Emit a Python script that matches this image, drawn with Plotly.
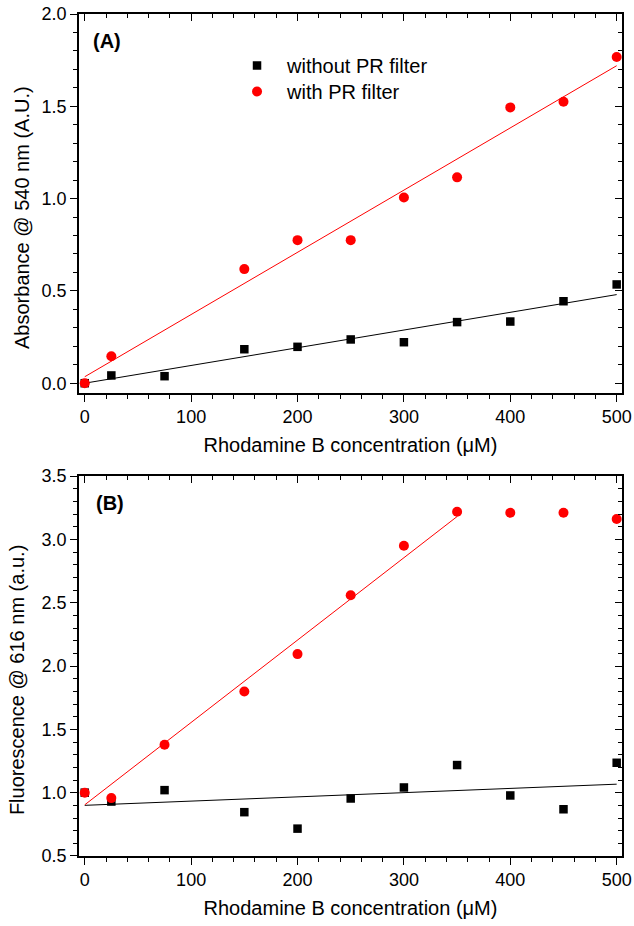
import plotly.graph_objects as go

# ---------------- data ----------------
conc = [0, 25, 75, 150, 200, 250, 300, 350, 400, 450, 500]

abs_without = [0.0, 0.042, 0.038, 0.184, 0.197, 0.237, 0.222, 0.331, 0.334, 0.444, 0.535]
conc_abs_with = [0, 25, 150, 200, 250, 300, 350, 400, 450, 500]
abs_with_vals = [0.0, 0.146, 0.618, 0.775, 0.775, 1.006, 1.115, 1.494, 1.525, 1.767]

fl_without = [1.0, 0.93, 1.02, 0.846, 0.716, 0.954, 1.041, 1.218, 0.978, 0.869, 1.236]
fl_with = [1.0, 0.957, 1.379, 1.798, 2.094, 2.558, 2.949, 3.218, 3.21, 3.21, 3.16]

# linear fit end points
fitA_x = [0, 500]
fitA_without = [0.0, 0.48]
fitA_with = [0.035, 1.72]
fitB_without_x = [0, 500]
fitB_without = [0.90, 1.067]
fitB_with_x = [0, 350]
fitB_with = [0.904, 3.18]

x_ticks = [0, 100, 200, 300, 400, 500]
yA_ticks = [0.0, 0.5, 1.0, 1.5, 2.0]
yB_ticks = [0.5, 1.0, 1.5, 2.0, 2.5, 3.0, 3.5]

FONT = "Liberation Sans, Arial, sans-serif"
BLACK = "#000000"
RED = "#ff0000"

fig = go.Figure()

# ---- Panel A ----
fig.add_trace(go.Scatter(x=fitA_x, y=fitA_without, mode="lines",
                         line=dict(color=BLACK, width=1), showlegend=False,
                         xaxis="x", yaxis="y", hoverinfo="skip"))
fig.add_trace(go.Scatter(x=fitA_x, y=fitA_with, mode="lines",
                         line=dict(color=RED, width=1), showlegend=False,
                         xaxis="x", yaxis="y", hoverinfo="skip"))
fig.add_trace(go.Scatter(x=conc, y=abs_without, mode="markers", name="without PR filter",
                         marker=dict(symbol="square", size=8.5, color=BLACK),
                         xaxis="x", yaxis="y", cliponaxis=False, legend="legend"))
fig.add_trace(go.Scatter(x=conc_abs_with, y=abs_with_vals, mode="markers", name="with PR filter",
                         marker=dict(symbol="circle", size=10, color=RED),
                         xaxis="x", yaxis="y", cliponaxis=False, legend="legend2"))

# ---- Panel B ----
fig.add_trace(go.Scatter(x=fitB_without_x, y=fitB_without, mode="lines",
                         line=dict(color=BLACK, width=1), showlegend=False,
                         xaxis="x2", yaxis="y2", hoverinfo="skip"))
fig.add_trace(go.Scatter(x=fitB_with_x, y=fitB_with, mode="lines",
                         line=dict(color=RED, width=1), showlegend=False,
                         xaxis="x2", yaxis="y2", hoverinfo="skip"))
fig.add_trace(go.Scatter(x=conc, y=fl_without, mode="markers", showlegend=False,
                         marker=dict(symbol="square", size=8.5, color=BLACK),
                         xaxis="x2", yaxis="y2", cliponaxis=False))
fig.add_trace(go.Scatter(x=conc, y=fl_with, mode="markers", showlegend=False,
                         marker=dict(symbol="circle", size=10, color=RED),
                         xaxis="x2", yaxis="y2", cliponaxis=False))

# dummy traces so mirrored (inside-tick) axes exist
fig.add_trace(go.Scatter(x=[None], y=[None], xaxis="x3", yaxis="y3", showlegend=False, hoverinfo="skip"))
fig.add_trace(go.Scatter(x=[None], y=[None], xaxis="x4", yaxis="y4", showlegend=False, hoverinfo="skip"))

XR = [-5.4, 505]
YA = [-0.053, 2.0]
YB = [0.5, 3.5]
domA = [0.5499, 1.0]
domB = [0.0, 0.4513]

common = dict(showgrid=False, zeroline=False, showline=True, linecolor=BLACK,
              linewidth=1.5, tickcolor=BLACK, tickwidth=1.2, automargin=False,
              tickfont=dict(family=FONT, size=18, color=BLACK))

def xmain(anchor):
    return dict(common, range=XR, domain=[0, 1], anchor=anchor, ticks="outside",
                ticklen=7, tickvals=x_ticks,
                minor=dict(dtick=20, tick0=0, ticks="outside", ticklen=4, tickcolor=BLACK, tickwidth=1.2),
                title=dict(text="Rhodamine B concentration (\u03bcM)",
                           font=dict(family=FONT, size=20, color=BLACK), standoff=12))

def xmirror(over, anchor):
    return dict(common, range=XR, overlaying=over, anchor=anchor, side="top",
                ticks="inside", ticklen=7, tickvals=x_ticks, showticklabels=False,
                minor=dict(dtick=20, tick0=0, ticks="inside", ticklen=4, tickcolor=BLACK, tickwidth=1.2))

def ymain(rng, dom, anchor, tv):
    return dict(common, range=rng, domain=dom, anchor=anchor, ticks="outside",
                ticklen=7, tickvals=tv, tickformat=".1f",
                minor=dict(dtick=0.1, tick0=0, ticks="outside", ticklen=4, tickcolor=BLACK, tickwidth=1.2))

def ymirror(rng, over, anchor, tv):
    return dict(common, range=rng, overlaying=over, anchor=anchor, side="right",
                ticks="inside", ticklen=7, tickvals=tv, showticklabels=False,
                minor=dict(dtick=0.1, tick0=0, ticks="inside", ticklen=4, tickcolor=BLACK, tickwidth=1.2))

leg = dict(x=0.2726, xanchor="left", yanchor="top",
           bgcolor="rgba(0,0,0,0)", borderwidth=0, itemwidth=50,
           font=dict(family=FONT, size=20, color=BLACK), itemsizing="trace")

title_font = dict(family=FONT, size=20, color=BLACK)

fig.update_layout(
    width=634, height=926,
    margin=dict(l=79, r=12, t=14, b=70),
    paper_bgcolor="white", plot_bgcolor="white",
    font=dict(family=FONT, size=18, color=BLACK),
    xaxis=xmain("y"),
    yaxis=ymain(YA, domA, "x", yA_ticks),
    xaxis2=xmain("y2"),
    yaxis2=ymain(YB, domB, "x2", yB_ticks),
    xaxis3=xmirror("x", "y"),
    yaxis3=ymirror(YA, "y", "x", yA_ticks),
    xaxis4=xmirror("x2", "y2"),
    yaxis4=ymirror(YB, "y2", "x2", yB_ticks),
    legend=dict(leg, y=0.962),
    legend2=dict(leg, y=0.9311),
    annotations=[
        dict(text="<b>(A)</b>", x=20.7, y=1.854, xref="x", yref="y", showarrow=False,
             font=dict(family=FONT, size=20, color=BLACK)),
        dict(text="<b>(B)</b>", x=23.9, y=3.29, xref="x2", yref="y2", showarrow=False,
             font=dict(family=FONT, size=20, color=BLACK)),
        dict(text="Absorbance @ 540 nm (A.U.)", textangle=-90, xref="paper", yref="paper",
             x=-0.105, y=0.7589, xanchor="center", yanchor="middle", showarrow=False,
             font=title_font),
        dict(text="Fluorescence @ 616 nm (a.u.)", textangle=-90, xref="paper", yref="paper",
             x=-0.114, y=0.209, xanchor="center", yanchor="middle", showarrow=False,
             font=title_font),
    ],
)

fig.write_html("out.html", config={"displayModeBar": False},
               post_script="document.body.style.margin='0';")
